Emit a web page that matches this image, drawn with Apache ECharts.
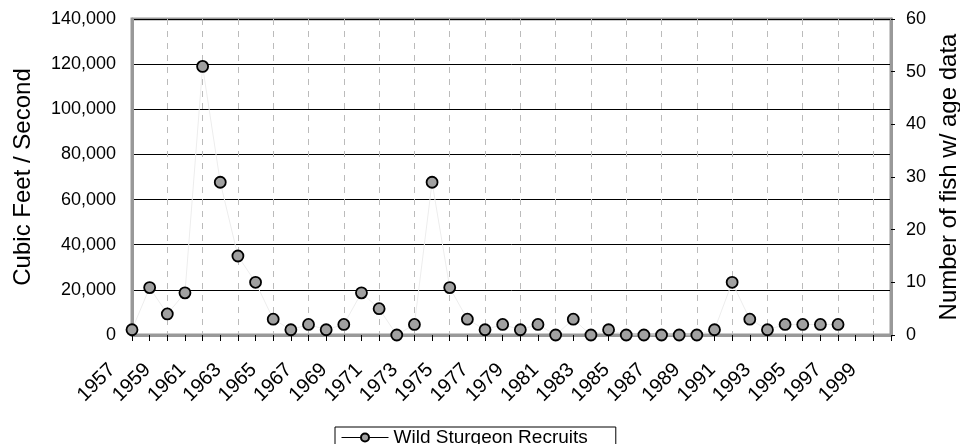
<!DOCTYPE html>
<html>
<head>
<meta charset="utf-8">
<script src="https://cdn.jsdelivr.net/npm/echarts@6/dist/echarts.min.js"></script>
<style>
  html, body { margin: 0; padding: 0; background: #fff; }
  #chart { width: 960px; height: 444px; }
</style>
</head>
<body>
<div id="chart"></div>
<script>
// years on the category axis (1957 - 2000)
var years = [];
for (var y = 1957; y <= 2000; y++) { years.push(String(y)); }

// number of fish with age data, 1957 - 1997
var recruits = [1, 9, 4, 8, 51, 29, 15, 10, 3, 1,
                2, 1, 2, 8, 5, 0, 2, 29, 9, 3,
                1, 2, 1, 2, 0, 3, 0, 1, 0, 0,
                0, 0, 0, 1, 10, 3, 1, 2, 2, 2,
                2];

var font = 'Liberation Sans, Arial, sans-serif';

var option = {
    backgroundColor: '#fff',
    textStyle: { fontFamily: font, color: '#000' },
    grid: {
        left: 132, right: 69, top: 19, bottom: 109,
        containLabel: false,
        outerBoundsMode: 'none',
        show: true,
        borderColor: '#999',
        borderWidth: 3
    },
    legend: {
        data: ['Wild Sturgeon Recruits'],
        left: 335,
        top: 427,
        itemWidth: 47,
        itemHeight: 10,
        itemGap: 6,
        padding: [1, 28, 8, 6],
        borderColor: '#000',
        borderWidth: 1,
        borderRadius: 0,
        backgroundColor: '#fff',
        lineStyle: { color: '#000', width: 1 },
        textStyle: { fontFamily: font, fontSize: 19, color: '#000' }
    },
    xAxis: {
        type: 'category',
        data: years,
        boundaryGap: false,
        axisLine: { lineStyle: { color: '#999', width: 3 } },
        axisTick: { interval: 0, length: 6, lineStyle: { color: '#000' } },
        axisLabel: {
            interval: 1,
            rotate: 45,
            margin: 12,
            padding: [0, 28, 0, 0],
            fontSize: 20,
            color: '#000',
            fontFamily: font
        },
        splitLine: {
            show: true,
            interval: 1,
            lineStyle: { color: '#bbb', type: [6, 6], width: 1 }
        }
    },
    yAxis: [
        {
            type: 'value',
            min: 0,
            max: 140000,
            interval: 20000,
            name: 'Cubic Feet / Second',
            nameLocation: 'middle',
            nameGap: 97,
            nameTextStyle: { fontSize: 24, color: '#000', fontFamily: font },
            axisLine: { show: true, lineStyle: { color: '#999', width: 3 } },
            axisTick: { show: false },
            axisLabel: {
                fontSize: 18,
                color: '#000',
                fontFamily: font,
                margin: 16,
                formatter: function (v) { return v.toLocaleString('en-US'); }
            },
            splitLine: { show: true, lineStyle: { color: '#000', width: 1 } }
        },
        {
            type: 'value',
            min: 0,
            max: 60,
            interval: 10,
            name: 'Number of fish w/ age data',
            nameLocation: 'middle',
            nameGap: 40,
            nameTextStyle: { fontSize: 24, color: '#000', fontFamily: font },
            axisLine: { show: true, lineStyle: { color: '#999', width: 3 } },
            axisTick: { show: true, length: 4, lineStyle: { color: '#000' } },
            axisLabel: { fontSize: 18, color: '#000', fontFamily: font, margin: 15 },
            splitLine: { show: false }
        }
    ],
    series: [
        {
            name: 'Wild Sturgeon Recruits',
            type: 'line',
            yAxisIndex: 1,
            data: recruits,
            symbol: 'circle',
            symbolSize: 11,
            showAllSymbol: true,
            lineStyle: { color: '#ededed', width: 1 },
            itemStyle: { color: '#a0a0a0', borderColor: '#000', borderWidth: 1.8 },
            emphasis: { disabled: true },
            z: 3
        }
    ],
    animation: false
};

var chart = echarts.init(document.getElementById('chart'));
chart.setOption(option);
</script>
</body>
</html>
